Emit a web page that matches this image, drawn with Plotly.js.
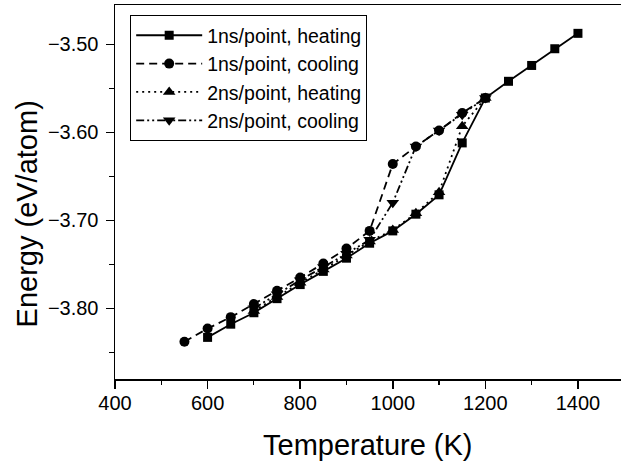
<!DOCTYPE html>
<html>
<head>
<meta charset="utf-8">
<script src="https://cdn.plot.ly/plotly-3.0.1.min.js"></script>
<style>html,body{margin:0;padding:0;background:#fff;}#chart{width:621px;height:461px;}</style>
</head>
<body>
<div id="chart"></div>
<script>
// Data
const seriesNames = ["1ns/point, heating", "1ns/point, cooling", "2ns/point, heating", "2ns/point, cooling"];

const t1nsHeat = [600, 650, 700, 750, 800, 850, 900, 950, 1000, 1050, 1100, 1150, 1200, 1250, 1300, 1350, 1400];
const e1nsHeat = [-3.833, -3.818, -3.805, -3.789, -3.773, -3.758, -3.743, -3.726, -3.712, -3.693, -3.671, -3.612, -3.561, -3.542, -3.524, -3.505, -3.4875];

const t1nsCool = [550, 600, 650, 700, 750, 800, 850, 900, 950, 1000, 1050, 1100, 1150, 1200];
const e1nsCool = [-3.838, -3.823, -3.810, -3.795, -3.780, -3.765, -3.749, -3.732, -3.712, -3.636, -3.616, -3.598, -3.578, -3.561];

const t2nsHeat = [700, 750, 800, 850, 900, 950, 1000, 1050, 1100, 1150, 1200];
const e2nsHeat = [-3.803, -3.787, -3.771, -3.756, -3.740, -3.724, -3.711, -3.692, -3.668, -3.593, -3.561];

const t2nsCool = [700, 750, 800, 850, 900, 950, 1000, 1050, 1100, 1150, 1200];
const e2nsCool = [-3.800, -3.784, -3.768, -3.753, -3.738, -3.722, -3.680, -3.616, -3.598, -3.580, -3.561];

const xTitle = "Temperature (K)";
const yTitle = "Energy (eV/atom)";

const black = "#000";
function tr(x, y, name, dash, symbol, size) {
  return {
    x: x, y: y, name: name, type: "scatter", mode: "lines+markers",
    line: {color: black, width: 1.8, dash: dash},
    marker: {color: black, symbol: symbol, size: size}
  };
}
const data = [
  tr(t1nsHeat, e1nsHeat, seriesNames[0], "solid", "square", 9),
  tr(t1nsCool, e1nsCool, seriesNames[1], "8px,5px", "circle", 10),
  tr(t2nsHeat, e2nsHeat, seriesNames[2], "2px,4px", "triangle-up", 11),
  tr(t2nsCool, e2nsCool, seriesNames[3], "8px,3px,2px,3px,2px,3px", "triangle-down", 11)
];

const layout = {
  width: 621, height: 461,
  margin: {l: 115, r: 0, t: 5, b: 82},
  paper_bgcolor: "#fff", plot_bgcolor: "#fff",
  font: {family: "Liberation Sans, Arial, sans-serif", color: black, size: 20},
  showlegend: true,
  legend: {
    x: 0.03, y: 0.973, xanchor: "left", yanchor: "top",
    bordercolor: black, borderwidth: 1, bgcolor: "#fff",
    font: {size: 19.5, color: black},
    itemwidth: 66
  },
  xaxis: {
    range: [400, 1493], showgrid: false, zeroline: false,
    showline: true, linecolor: black, linewidth: 1.5, mirror: true,
    ticks: "outside", ticklen: 8, tickwidth: 1.5, tickcolor: black,
    tick0: 400, dtick: 200,
    minor: {ticks: "outside", ticklen: 4, tickwidth: 1.2, tickcolor: black, dtick: 100, showgrid: false},
    tickfont: {size: 20}, ticklabelstandoff: -3
  },
  yaxis: {
    range: [-3.8803, -3.4553], showgrid: false, zeroline: false,
    showline: true, linecolor: black, linewidth: 1.5, mirror: true,
    ticks: "outside", ticklen: 8, tickwidth: 1.5, tickcolor: black,
    tick0: -3.5, dtick: 0.1, tickformat: ".2f",
    minor: {ticks: "outside", ticklen: 5, tickwidth: 1.2, tickcolor: black, dtick: 0.05, showgrid: false},
    tickfont: {size: 20}, ticklabelstandoff: 3
  },
  annotations: [
    {text: xTitle, xref: "paper", yref: "paper", x: 0.5, y: -0.1765, xanchor: "center", yanchor: "middle",
     showarrow: false, font: {size: 29, color: black}},
    {text: yTitle, xref: "paper", yref: "paper", x: -0.174, y: 0.4425, xanchor: "center", yanchor: "middle",
     textangle: -90, showarrow: false, font: {size: 29, color: black}}
  ]
};

Plotly.newPlot("chart", data, layout, {displayModeBar: false, staticPlot: true});
</script>
</body>
</html>
